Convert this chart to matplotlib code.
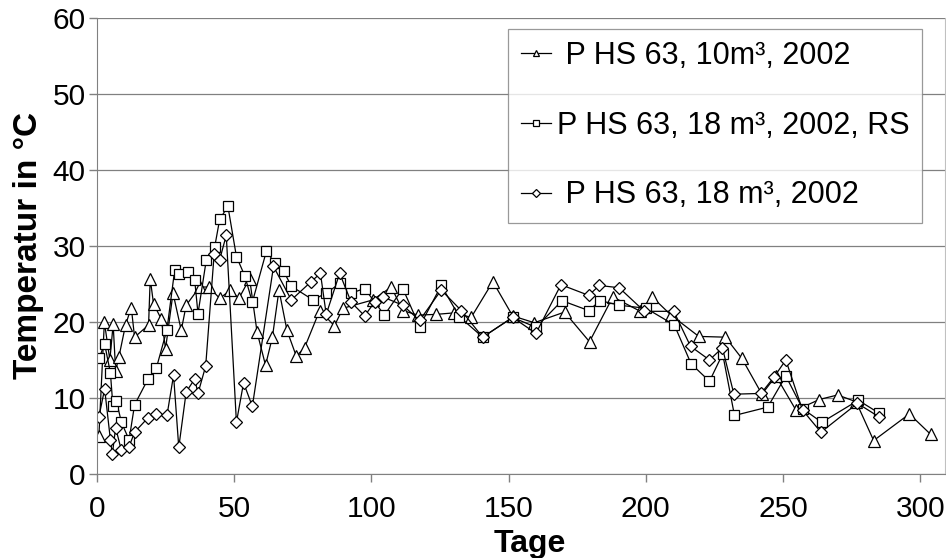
import matplotlib.pyplot as plt
from matplotlib.lines import Line2D

plt.rcParams['font.family'] = ['Liberation Sans', 'DejaVu Sans']

# P HS 63, 10 m3, 2002 (triangles)
days_10 = [0.8, 2.8, 4.8, 6.0, 6.9, 8.1, 10.5, 12.6, 13.8, 18.9, 19.5, 20.7, 23.5, 25.1,
           27.8, 30.8, 32.6, 37.5, 40.9, 44.8, 48.7, 51.8, 55.7, 58.4, 61.5, 64.0, 66.4,
           69.3, 72.7, 75.7, 81.2, 86.6, 89.7, 100.6, 107.3, 111.5, 117.0, 123.6, 130.3,
           136.4, 144.3, 151.5, 159.4, 170.4, 179.5, 188.0, 198.0, 202.3, 209.2, 219.3,
           229.0, 235.0, 242.3, 247.4, 254.7, 263.2, 269.9, 276.6, 283.0, 296.0, 303.8]
temp_10 = [5.0, 20.0, 15.0, 19.7, 13.6, 15.4, 19.6, 21.9, 18.0, 19.6, 25.7, 22.4, 20.4, 16.5,
           23.8, 18.9, 22.2, 24.6, 24.6, 23.1, 24.2, 23.1, 25.7, 18.7, 14.3, 18.0, 24.2,
           18.9, 15.5, 16.6, 21.5, 19.5, 21.8, 22.9, 24.6, 21.5, 20.9, 21.0, 21.2,
           20.6, 25.3, 20.8, 19.9, 21.3, 17.4, 23.3, 21.4, 23.3, 20.9, 18.1,
           18.0, 15.2, 10.5, 12.9, 8.4, 9.8, 10.4, 9.5, 4.4, 7.9, 5.2]

# P HS 63, 18 m3, 2002, RS (squares)
days_rs = [0.8, 2.9, 5.0, 5.9, 7.2, 9.0, 11.8, 13.8, 18.7, 21.7, 25.6, 28.4, 30.0, 33.2,
           35.7, 36.9, 39.9, 43.0, 44.8, 47.8, 50.9, 53.9, 56.7, 61.8, 64.8, 68.1, 70.9,
           78.8, 83.6, 88.7, 92.7, 97.6, 104.8, 111.5, 117.6, 125.5, 132.1, 140.6, 151.5,
           160.0, 169.5, 179.2, 183.4, 190.4, 200.1, 210.4, 216.5, 223.2, 228.0, 232.3,
           244.4, 251.0, 257.1, 264.1, 277.4, 285.0]
temp_rs = [15.2, 17.1, 13.3, 9.0, 9.6, 6.8, 4.5, 9.1, 12.5, 13.9, 19.0, 26.8, 26.3, 26.6,
           25.5, 21.1, 28.1, 29.9, 33.5, 35.2, 28.6, 26.1, 22.6, 29.3, 27.8, 26.7, 24.7,
           22.9, 23.8, 25.1, 23.8, 24.4, 20.9, 24.4, 19.4, 24.8, 20.7, 18.0, 20.6,
           19.3, 22.8, 21.5, 22.8, 22.2, 21.8, 19.6, 14.5, 12.2, 15.8, 7.7,
           8.8, 12.9, 8.6, 6.8, 9.7, 8.0]

# P HS 63, 18 m3, 2002 (diamonds)
days_18 = [0.8, 2.9, 5.0, 5.7, 6.9, 9.0, 11.8, 13.8, 18.7, 21.7, 25.6, 28.0, 29.9, 32.6,
           35.7, 36.9, 39.7, 42.8, 44.8, 47.2, 50.9, 53.5, 56.7, 64.4, 70.9, 78.1, 81.5,
           83.6, 88.5, 92.7, 97.6, 101.2, 104.2, 111.5, 117.6, 125.5, 132.8, 140.6, 151.5,
           160.0, 169.1, 179.2, 183.1, 190.3, 199.5, 210.2, 216.3, 223.2, 227.9, 232.1,
           242.0, 246.8, 251.0, 257.1, 263.8, 277.1, 285.0]
temp_18 = [7.5, 11.2, 4.5, 2.6, 6.1, 3.1, 3.6, 5.5, 7.4, 7.9, 7.7, 13.0, 3.5, 10.8,
           12.5, 10.6, 14.2, 29.0, 28.2, 31.4, 6.8, 12.0, 8.9, 27.3, 22.9, 25.3, 26.4,
           21.0, 26.4, 22.6, 20.8, 22.6, 23.3, 22.2, 20.2, 24.2, 21.5, 18.0, 20.6,
           18.5, 24.9, 23.5, 24.8, 24.5, 21.4, 21.4, 16.8, 15.0, 16.6, 10.5,
           10.6, 12.8, 15.0, 8.4, 5.5, 9.3, 7.5]

labels = [" P HS 63, 10m³, 2002", "P HS 63, 18 m³, 2002, RS", " P HS 63, 18 m³, 2002"]
x_ticks = [0, 50, 100, 150, 200, 250, 300]
y_ticks = [0, 10, 20, 30, 40, 50, 60]

fig = plt.figure(figsize=(9.46, 5.58), dpi=100)
ax = fig.add_axes([0.1022, 0.1505, 0.8968, 0.8175])

style = dict(color="black", linewidth=0.9, markerfacecolor="white",
             markeredgecolor="black", markeredgewidth=0.9)
ax.plot(days_10, temp_10, marker="^", markersize=8, **style)
ax.plot(days_rs, temp_rs, marker="s", markersize=7.5, **style)
ax.plot(days_18, temp_18, marker="D", markersize=6.5, **style)

ax.set_xlim(0, 309)
ax.set_ylim(0, 60)
ax.set_xticks(x_ticks)
ax.set_yticks(y_ticks)
ax.yaxis.grid(True, color="#808080", linewidth=0.9)
ax.set_axisbelow(True)
ax.tick_params(labelsize=21.5, color="#808080", length=6, width=1)
ax.tick_params(axis="x", pad=9)
ax.tick_params(axis="y", pad=2)

for s in ["left", "bottom", "right"]:
    ax.spines[s].set_color("#808080")
ax.spines["top"].set_visible(False)
ax.spines["right"].set_color("#c0c0c0")

ax.set_xlabel("Tage", fontsize=23, fontweight="bold", va="baseline")
ax.xaxis.set_label_coords(0.511, -0.170)
ax.set_ylabel("Temperatur in °C", fontsize=24, fontweight="bold", labelpad=6)

handles = [Line2D([], [], marker=m, markersize=ms, **style)
           for m, ms in [("^", 5), ("s", 5), ("D", 4)]]
leg = ax.legend(handles, labels, loc="upper right", bbox_to_anchor=(0.973, 0.976),
                fontsize=22, frameon=True, fancybox=False, handlelength=1.0,
                handletextpad=0.2, borderpad=0.4, labelspacing=1.3, borderaxespad=0)
leg.get_frame().set_edgecolor("#808080")
leg.get_frame().set_linewidth(0.9)

fig.savefig("out.png", dpi=100)
